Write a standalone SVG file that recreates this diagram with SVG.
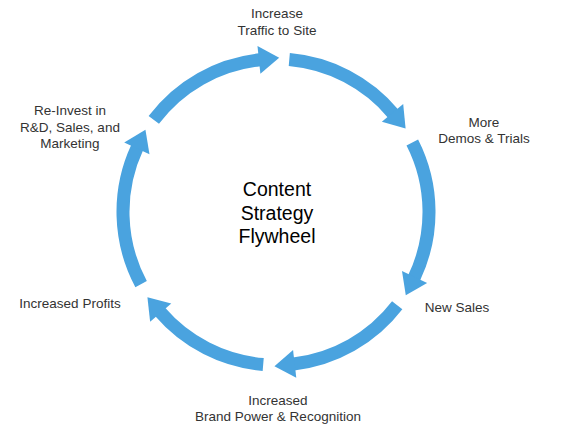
<svg xmlns="http://www.w3.org/2000/svg" width="570" height="434" viewBox="0 0 570 434">
<style>
.arc{fill:none;stroke:#4AA3DF;stroke-width:13;marker-end:url(#head)}
.lbl{font-family:"Liberation Sans",Arial,sans-serif;font-size:13.5px;fill:#333;text-anchor:middle}
.ctr{font-family:"Liberation Sans",Arial,sans-serif;font-size:19.5px;fill:#000;text-anchor:middle}
</style>
<defs>
<marker id="head" markerUnits="userSpaceOnUse" markerWidth="30" markerHeight="30" viewBox="0 -14 20 28" refX="1" refY="0" orient="auto" overflow="visible">
<path d="M0,-13 L19,0 L0,13 Z" fill="#4AA3DF"/>
</marker>
</defs>
<rect width="570" height="434" fill="#fff"/>
<g id="connectors">
<path class="arc" d="M153.8,119.9 A153,153 0 0 1 260.0,59.8"/>
<path class="arc" d="M289.3,59.6 A153,153 0 0 1 393.2,113.7"/>
<path class="arc" d="M412.3,142.5 A153,153 0 0 1 414.1,277.9"/>
<path class="arc" d="M397.2,305.3 A153,153 0 0 1 293.6,364.0"/>
<path class="arc" d="M263.2,364.5 A153,153 0 0 1 160.0,311.8"/>
<path class="arc" d="M141.1,284.1 A153,153 0 0 1 137.3,147.3"/>
</g>
<g id="center"><text class="ctr"><tspan x="277" y="196">Content</tspan><tspan x="277" y="220">Strategy</tspan><tspan x="277" y="243">Flywheel</tspan></text></g>
<g id="traffic"><text class="lbl"><tspan x="277" y="18">Increase</tspan><tspan x="277" y="35">Traffic to Site</tspan></text></g>
<g id="demos"><text class="lbl"><tspan x="484" y="127">More</tspan><tspan x="484" y="143">Demos &amp; Trials</tspan></text></g>
<g id="sales"><text class="lbl"><tspan x="457" y="312">New Sales</tspan></text></g>
<g id="brand"><text class="lbl"><tspan x="278" y="405">Increased</tspan><tspan x="278" y="421">Brand Power &amp; Recognition</tspan></text></g>
<g id="profits"><text class="lbl"><tspan x="70" y="308">Increased Profits</tspan></text></g>
<g id="reinvest"><text class="lbl"><tspan x="70" y="115">Re-Invest in</tspan><tspan x="70" y="132">R&amp;D, Sales, and</tspan><tspan x="70" y="148">Marketing</tspan></text></g>
</svg>
